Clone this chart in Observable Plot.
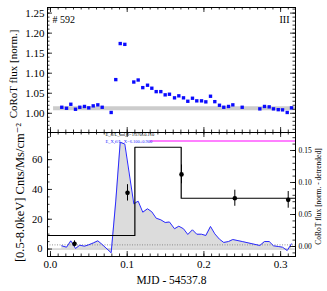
<!DOCTYPE html>
<html><head><meta charset="utf-8">
<script src="https://cdn.jsdelivr.net/npm/d3@7"></script>
<script src="https://cdn.jsdelivr.net/npm/@observablehq/plot@0.6"></script>
<style>
html,body{margin:0;padding:0;background:#fff;}
#chart{position:relative;width:327px;height:291px;}
#chart svg{display:block;overflow:visible;background:transparent;}
</style></head><body><div id="chart"></div>
<script>
// ---------- data ----------
const times = [0.0147,0.0209,0.0265,0.0326,0.0382,0.0443,0.0499,0.0557,0.0617,0.0674,
  0.0791,0.0851,0.0909,0.0969,0.1086,0.1143,0.1203,0.1265,0.1321,0.1378,
  0.1438,0.1495,0.1551,0.1617,0.1673,0.1734,0.1790,0.1851,0.1907,0.1969,
  0.2025,0.2086,0.2142,0.2203,0.2259,0.2321,0.2377,0.2499,0.2729,0.2790,
  0.2851,0.2907,0.2969,0.3025,0.3086,0.3142];
const flux = [1.015,1.0125,1.0225,1.010,1.015,1.017,1.0135,1.0185,1.021,1.015,
  1.002,1.084,1.174,1.172,1.078,1.083,1.064,1.070,1.0625,1.054,
  1.054,1.046,1.0475,1.0385,1.0435,1.0385,1.030,1.0375,1.031,1.031,
  1.0285,1.0425,1.029,1.020,1.015,1.017,1.021,1.015,1.011,1.017,
  1.016,1.011,1.009,1.0085,1.002,1.0135];
const fluxDetrended = [0.0011,-0.0011,0.0089,-0.0031,0.0020,0.0005,0.0027,0.0055,0.0089,0.0031,
  -0.0098,0.071,0.163,0.160,0.0667,0.0708,0.0536,0.0589,0.0542,0.0442,
  0.0417,0.0375,0.0383,0.0277,0.0317,0.0277,0.0188,0.0261,0.0192,0.0192,
  0.0172,0.0313,0.0198,0.0114,0.0063,0.0078,0.0109,0.0078,0.0016,0.0078,
  0.0078,0.0011,0.0,-0.0011,-0.0063,0.0042];
const quiescentLevel = 1.0125;
const xrayEdges = [-0.01, 0.110, 0.1704, 0.33];
const xrayRate = [9.1, 68.3, 34.1];
const ptTimes = [0.0313, 0.1004, 0.1708, 0.2403, 0.3099];
const ptRate = [3.5, 37.7, 50.1, 34.1, 33.0];
const ptErr = [2.0, 5.5, 6.3, 5.4, 5.6];
const pinkLevel = 72.5;
const pinkStart = 0.130;
const bgLevel = 2.8;
const xTickLabels = [0.0, 0.1, 0.2, 0.3];
const topTickLabels = [1.00, 1.05, 1.10, 1.15, 1.20, 1.25];
const leftTickLabels = [0, 20, 40, 60];
const rightTickLabels = [0.00, 0.05, 0.10, 0.15];
const ann1 = "E_fl/L_bol,fl=1.370±0.110";
const ann2 = "E_X,fl/L_X=6.100±0.900";

// ---------- layout ----------
const W = 327, ML = 47, MR = 32;
const xDomain = [-0.0039, 0.3194];
const topDomain = [0.952, 1.264];
const leftDomain = [-5.0, 78.2];
const rightDomain = [-0.0156, 0.1781];
const toLeft = r => leftDomain[0] + (r - rightDomain[0]) / (rightDomain[1] - rightDomain[0]) * (leftDomain[1] - leftDomain[0]);
const font = "'Liberation Serif', 'DejaVu Serif', serif";
const plotW = W - ML - MR;
const ux = (xDomain[1] - xDomain[0]) / plotW;

function rng(a, b, s) { const o = []; for (let i = 0; a + i * s <= b + 1e-9; i++) o.push(+(a + i * s).toFixed(6)); return o; }

function yTickMarks(vals, len, map = d => d) {
  return [
    Plot.ruleY(vals, {y: d => map(d), x1: () => xDomain[0], x2: () => xDomain[0] + len * ux, stroke: "black", strokeWidth: 0.8}),
    Plot.ruleY(vals, {y: d => map(d), x1: () => xDomain[1] - len * ux, x2: () => xDomain[1], stroke: "black", strokeWidth: 0.8})
  ];
}
function yTickMarksSide(vals, len, side, map = d => d) {
  return Plot.ruleY(vals, {y: d => map(d),
    x1: () => side === "left" ? xDomain[0] : xDomain[1] - len * ux,
    x2: () => side === "left" ? xDomain[0] + len * ux : xDomain[1], stroke: "black", strokeWidth: 0.8});
}
function xTickMarks(vals, len, yd, uy) {
  return [
    Plot.ruleX(vals, {x: d => d, y1: () => yd[0], y2: () => yd[0] + len * uy, stroke: "black", strokeWidth: 0.8}),
    Plot.ruleX(vals, {x: d => d, y1: () => yd[1] - len * uy, y2: () => yd[1], stroke: "black", strokeWidth: 0.8})
  ];
}

const xMinor = rng(0, 0.31, 0.01);
const xMajor = [0, 0.1, 0.2, 0.3];

// ---------- top panel ----------
const topH = 132, topMT = 7;
const uyTop = (topDomain[1] - topDomain[0]) / (topH - topMT);
const topData = times.map((t, i) => ({t, f: flux[i]}));
const topPlot = Plot.plot({
  width: W, height: topH, marginLeft: ML, marginRight: MR, marginTop: topMT, marginBottom: 0,
  x: {domain: xDomain, axis: null},
  y: {domain: topDomain, axis: null},
  style: {fontFamily: font, background: "transparent", overflow: "visible"},
  marks: [
    Plot.ruleY([quiescentLevel], {stroke: "#cccccc", strokeWidth: 4, x1: () => 0.004, x2: () => xDomain[1]}),
    Plot.dot(topData, {x: "t", y: "f", symbol: "square", r: 1.9, fill: "#0a0aff", stroke: "none"}),
    Plot.frame({stroke: "black", strokeWidth: 1}),
    ...yTickMarks(rng(0.96, 1.26, 0.01), 2.5),
    ...yTickMarks(topTickLabels, 5),
    ...xTickMarks(xMinor, 2.5, topDomain, uyTop),
    ...xTickMarks(xMajor, 5, topDomain, uyTop),
    Plot.text(topTickLabels, {y: d => d, text: d => d.toFixed(2), frameAnchor: "left", dx: -3, textAnchor: "end", fontSize: 11, fill: "black"}),
    Plot.text(["# 592"], {frameAnchor: "top-left", dx: 5, dy: 8, textAnchor: "start", fontSize: 10, fill: "black"}),
    Plot.text(["III"], {frameAnchor: "top-right", dx: -6, dy: 8, textAnchor: "end", fontSize: 10, fill: "black"}),
    Plot.text(["CoRoT flux [norm.]"], {frameAnchor: "left", dx: -34, dy: 4, rotate: -90, textAnchor: "middle", fontSize: 11, fill: "black"})
  ]
});

// ---------- bottom panel ----------
const botH = 159, botMB = 35;
const uyBot = (leftDomain[1] - leftDomain[0]) / (botH - botMB);
const botData = times.map((t, i) => ({t, v: toLeft(fluxDetrended[i])}));
const stepData = xrayRate.map((r, i) => ({t: xrayEdges[i], r})).concat([{t: xrayEdges[3], r: xrayRate[2]}]);
const ptData = ptTimes.map((t, i) => ({t, r: ptRate[i], e: ptErr[i]}));

const botPlot = Plot.plot({
  width: W, height: botH, marginLeft: ML, marginRight: MR, marginTop: 0, marginBottom: botMB,
  x: {domain: xDomain, axis: null},
  y: {domain: leftDomain, axis: null},
  style: {fontFamily: font, background: "transparent", overflow: "visible"},
  marks: [
    Plot.areaY(botData, {x: "t", y1: () => 0, y2: "v", fill: "#dcdcdc", clip: true}),
    Plot.ruleY([0], {stroke: "#bbbbbb", strokeWidth: 1}),
    Plot.ruleY([bgLevel], {stroke: "#777777", strokeWidth: 0.8, strokeDasharray: "1,1.5"}),
    Plot.line(botData, {x: "t", y: "v", stroke: "#2a2aff", strokeWidth: 1, clip: true}),
    Plot.line(stepData, {x: "t", y: "r", curve: "step-after", stroke: "black", strokeWidth: 1.2, clip: true}),
    Plot.ruleY([pinkLevel], {x1: () => pinkStart, x2: () => xDomain[1], stroke: "#ff80ff", strokeWidth: 2}),
    Plot.ruleX(ptData, {x: "t", y1: d => d.r - d.e, y2: d => d.r + d.e, stroke: "black", strokeWidth: 1}),
    Plot.dot(ptData, {x: "t", y: "r", r: 2.3, fill: "black", stroke: "none"}),
    Plot.text([ann1], {x: () => 0.0717, y: () => 76.8, textAnchor: "start", fontSize: 4.5, fill: "black"}),
    Plot.text([ann2], {x: () => 0.0717, y: () => 72.0, textAnchor: "start", fontSize: 4.5, fill: "#2a2aff"}),
    Plot.frame({stroke: "black", strokeWidth: 1}),
    yTickMarksSide(rng(-5, 75, 5), 2.5, "left"),
    yTickMarksSide(leftTickLabels, 5, "left"),
    yTickMarksSide(rng(-0.01, 0.17, 0.01), 2.5, "right", toLeft),
    yTickMarksSide(rightTickLabels, 5, "right", toLeft),
    ...xTickMarks(xMinor, 2.5, leftDomain, uyBot),
    ...xTickMarks(xMajor, 5, leftDomain, uyBot),
    Plot.text(leftTickLabels, {y: d => d, text: d => String(d), frameAnchor: "left", dx: -5, textAnchor: "end", fontSize: 10.5, fill: "black"}),
    Plot.text(rightTickLabels, {y: d => toLeft(d), text: d => d.toFixed(2), frameAnchor: "right", dx: 3, textAnchor: "start", fontSize: 7.5, fill: "black"}),
    Plot.text(xTickLabels, {x: d => d, text: d => d.toFixed(1), frameAnchor: "bottom", dy: 11, fontSize: 11, fill: "black"}),
    Plot.text(["MJD - 54537.8"], {frameAnchor: "bottom", dy: 27, fontSize: 11.5, fill: "black"}),
    Plot.text(["[0.5-8.0keV] Cnts/Ms/cm⁻²"], {frameAnchor: "left", dx: -28, dy: -2, rotate: -90, textAnchor: "middle", fontSize: 12.5, fill: "black"}),
    Plot.text(["CoRoT flux [norm. - detrended]"], {frameAnchor: "right", dx: 23, dy: 2, rotate: -90, textAnchor: "middle", fontSize: 7.5, fill: "black"})
  ]
});

const c = document.getElementById("chart");
c.appendChild(topPlot);
c.appendChild(botPlot);
</script>
</body></html>
